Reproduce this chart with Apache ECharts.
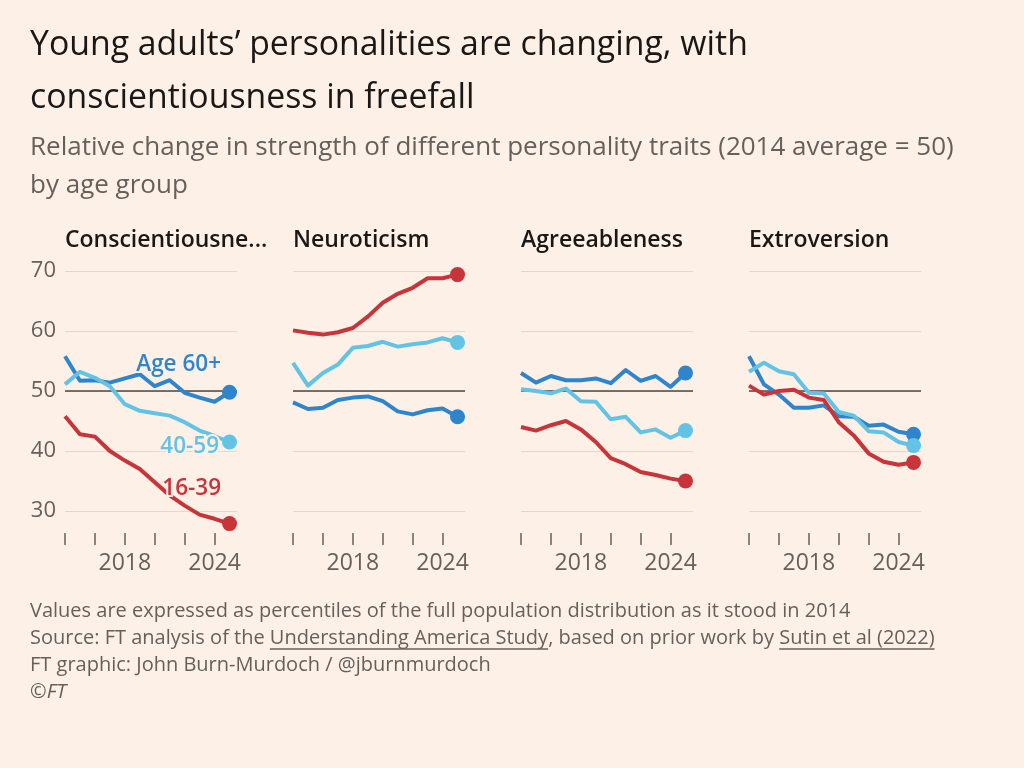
<!DOCTYPE html>
<html>
<head>
<meta charset="utf-8">
<script src="https://cdn.jsdelivr.net/npm/echarts@6/dist/echarts.min.js"></script>
<style>
  html, body { margin: 0; padding: 0; background: #fdf1e7; }
  #main { width: 1024px; height: 768px; }
</style>
</head>
<body>
<div id="main"></div>
<script>
// years on the x axis
var years = [2014, 2015, 2016, 2017, 2018, 2019, 2020, 2021, 2022, 2023, 2024, 2025];
var traits = ['Conscientiousne...', 'Neuroticism', 'Agreeableness', 'Extroversion'];
var groups = ['Age 60+', '40-59', '16-39'];
var xLabels = [2018, 2024];

// values, one array per trait and age group
var consc60 = [55.8, 51.7, 51.8, 51.4, 52.1, 52.8, 50.8, 51.8, 49.7, 48.9, 48.2, 49.8];
var consc40 = [51.1, 53.2, 52.2, 50.8, 47.8, 46.7, 46.3, 45.9, 44.8, 43.4, 42.5, 41.5];
var consc16 = [45.8, 42.8, 42.4, 40.0, 38.4, 37.0, 34.8, 32.6, 30.9, 29.4, 28.7, 27.9];

var neuro60 = [48.1, 47.0, 47.2, 48.5, 48.9, 49.1, 48.3, 46.6, 46.1, 46.8, 47.1, 45.7];
var neuro40 = [54.7, 50.9, 53.0, 54.4, 57.2, 57.5, 58.2, 57.4, 57.8, 58.1, 58.8, 58.1];
var neuro16 = [60.1, 59.7, 59.4, 59.8, 60.5, 62.4, 64.7, 66.2, 67.2, 68.8, 68.8, 69.4];

var agree60 = [53.0, 51.4, 52.5, 51.8, 51.8, 52.1, 51.3, 53.5, 51.7, 52.5, 50.7, 53.0];
var agree40 = [50.3, 50.0, 49.6, 50.4, 48.3, 48.2, 45.3, 45.7, 43.1, 43.6, 42.2, 43.4];
var agree16 = [44.0, 43.4, 44.3, 45.0, 43.6, 41.5, 38.8, 37.8, 36.5, 36.0, 35.4, 35.0];

var extro60 = [55.8, 51.1, 49.4, 47.2, 47.2, 47.6, 45.8, 45.7, 44.2, 44.4, 43.2, 42.8];
var extro40 = [53.2, 54.7, 53.3, 52.8, 49.7, 49.6, 46.5, 45.9, 43.3, 43.1, 41.5, 40.9];
var extro16 = [50.9, 49.4, 50.0, 50.2, 48.9, 48.5, 44.8, 42.6, 39.6, 38.2, 37.7, 38.1];

var panelData = [
  [consc60, consc40, consc16],
  [neuro60, neuro40, neuro16],
  [agree60, agree40, agree16],
  [extro60, extro40, extro16]
];

var bg = '#fdf1e7';
var colors = ['#2f85cc', '#63c3e5', '#c7353b'];
var textGrey = '#66605c';
var font = '"Open Sans", "Noto Sans", sans-serif';
var lefts = [65, 293, 521, 749];

var chart = echarts.init(document.getElementById('main'), null, { renderer: 'canvas' });

var grids = [], xAxes = [], yAxes = [], series = [];
for (var p = 0; p < 4; p++) {
  grids.push({ left: lefts[p], top: 271, width: 172, height: 240 });
  xAxes.push({
    gridIndex: p, type: 'value', min: 2014, max: 2025.5, interval: 2,
    offset: 22,
    axisLine: { show: false },
    axisTick: { show: true, length: 12, lineStyle: { color: textGrey, width: 1.5 } },
    splitLine: { show: false },
    axisLabel: {
      margin: 19, fontSize: 23, color: textGrey, fontFamily: font,
      showMaxLabel: false,
      formatter: function (v) { return xLabels.indexOf(v) >= 0 ? String(v) : ''; }
    }
  });
  yAxes.push({
    gridIndex: p, type: 'value', min: 30, max: 70, interval: 10,
    axisLine: { show: false }, axisTick: { show: false },
    splitLine: { lineStyle: { color: '#e2d8cf', width: 1.2 } },
    axisLabel: { show: p === 0, margin: 9, fontSize: 22, color: textGrey, fontFamily: font }
  });
  // draw order: light blue, red, dark blue on top
  [1, 2, 0].forEach(function (g) {
    var vals = panelData[p][g];
    var n = vals.length;
    var s = {
      name: groups[g], type: 'line', xAxisIndex: p, yAxisIndex: p,
      data: years.map(function (y, i) { return [y, vals[i]]; }),
      clip: false, showAllSymbol: true, symbol: 'circle',
      symbolSize: function (v, params) { return params.dataIndex === n - 1 ? 15 : 0; },
      lineStyle: { color: colors[g], width: 4, join: 'round' },
      itemStyle: { color: colors[g] },
      emphasis: { disabled: true },
      z: 3 + g
    };
    if (g === 1) {
      s.markLine = {
        silent: true, symbol: 'none', label: { show: false },
        lineStyle: { color: '#4b4643', width: 1.6, type: 'solid' },
        data: [{ yAxis: 50 }],
        z: 1
      };
    }
    series.push(s);
  });
}

var graphics = [];
function txt(x, y, text, size, color, weight, align) {
  graphics.push({
    type: 'text', x: x, y: y, silent: true,
    style: {
      text: text, fill: color, fontSize: size, fontFamily: font,
      fontWeight: weight || 'normal', align: align || 'left', verticalAlign: 'middle'
    }
  });
}
txt(30, 45, 'Young adults\u2019 personalities are changing, with', 33.8, '#1a1817');
txt(30, 98, 'conscientiousness in freefall', 33.8, '#1a1817');
txt(30, 148, 'Relative change in strength of different personality traits (2014 average = 50)', 26, textGrey);
txt(30, 186, 'by age group', 26, textGrey);
for (var t = 0; t < 4; t++) txt(lefts[t], 240, traits[t], 23, '#1a1817', 600);

// labels for the age groups in the first panel
var lbls = [[221, 365, 0], [219, 447, 1], [221, 489, 2]];
lbls.forEach(function (l) {
  graphics.push({
    type: 'text', x: l[0], y: l[1], z: 20, silent: true,
    style: {
      text: groups[l[2]], fill: colors[l[2]], fontSize: 22.5, fontFamily: font, fontWeight: 600,
      align: 'right', verticalAlign: 'middle', stroke: bg, lineWidth: 4
    }
  });
});

// footer
var footSize = 20;
var footFont = 'normal ' + footSize + 'px ' + font;
txt(30, 611, 'Values are expressed as percentiles of the full population distribution as it stood in 2014', footSize, textGrey);
txt(30, 638, 'Source: FT analysis of the Understanding America Study, based on prior work by Sutin et al (2022)', footSize, textGrey);
txt(30, 665, 'FT graphic: John Burn-Murdoch / @jburnmurdoch', footSize, textGrey);
graphics.push({
  type: 'text', x: 30, y: 692, silent: true,
  style: { text: '\u00a9FT', fill: textGrey, fontSize: footSize, fontFamily: font, fontStyle: 'italic', verticalAlign: 'middle' }
});

// underline the two links, measured with the same font
var ctx = document.createElement('canvas').getContext('2d');
ctx.font = footFont;
function w(s) { return ctx.measureText(s).width; }
var pre1 = 'Source: FT analysis of the ';
var link1 = 'Understanding America Study';
var pre2 = pre1 + link1 + ', based on prior work by ';
var link2 = 'Sutin et al (2022)';
[[w(pre1), w(link1)], [w(pre2), w(link2)]].forEach(function (u) {
  graphics.push({
    type: 'line', silent: true,
    shape: { x1: 30 + u[0], y1: 649, x2: 30 + u[0] + u[1], y2: 649 },
    style: { stroke: textGrey, lineWidth: 1.3 }
  });
});

chart.setOption({
  backgroundColor: bg,
  animation: false,
  grid: grids,
  xAxis: xAxes,
  yAxis: yAxes,
  series: series,
  graphic: graphics
});
</script>
</body>
</html>
